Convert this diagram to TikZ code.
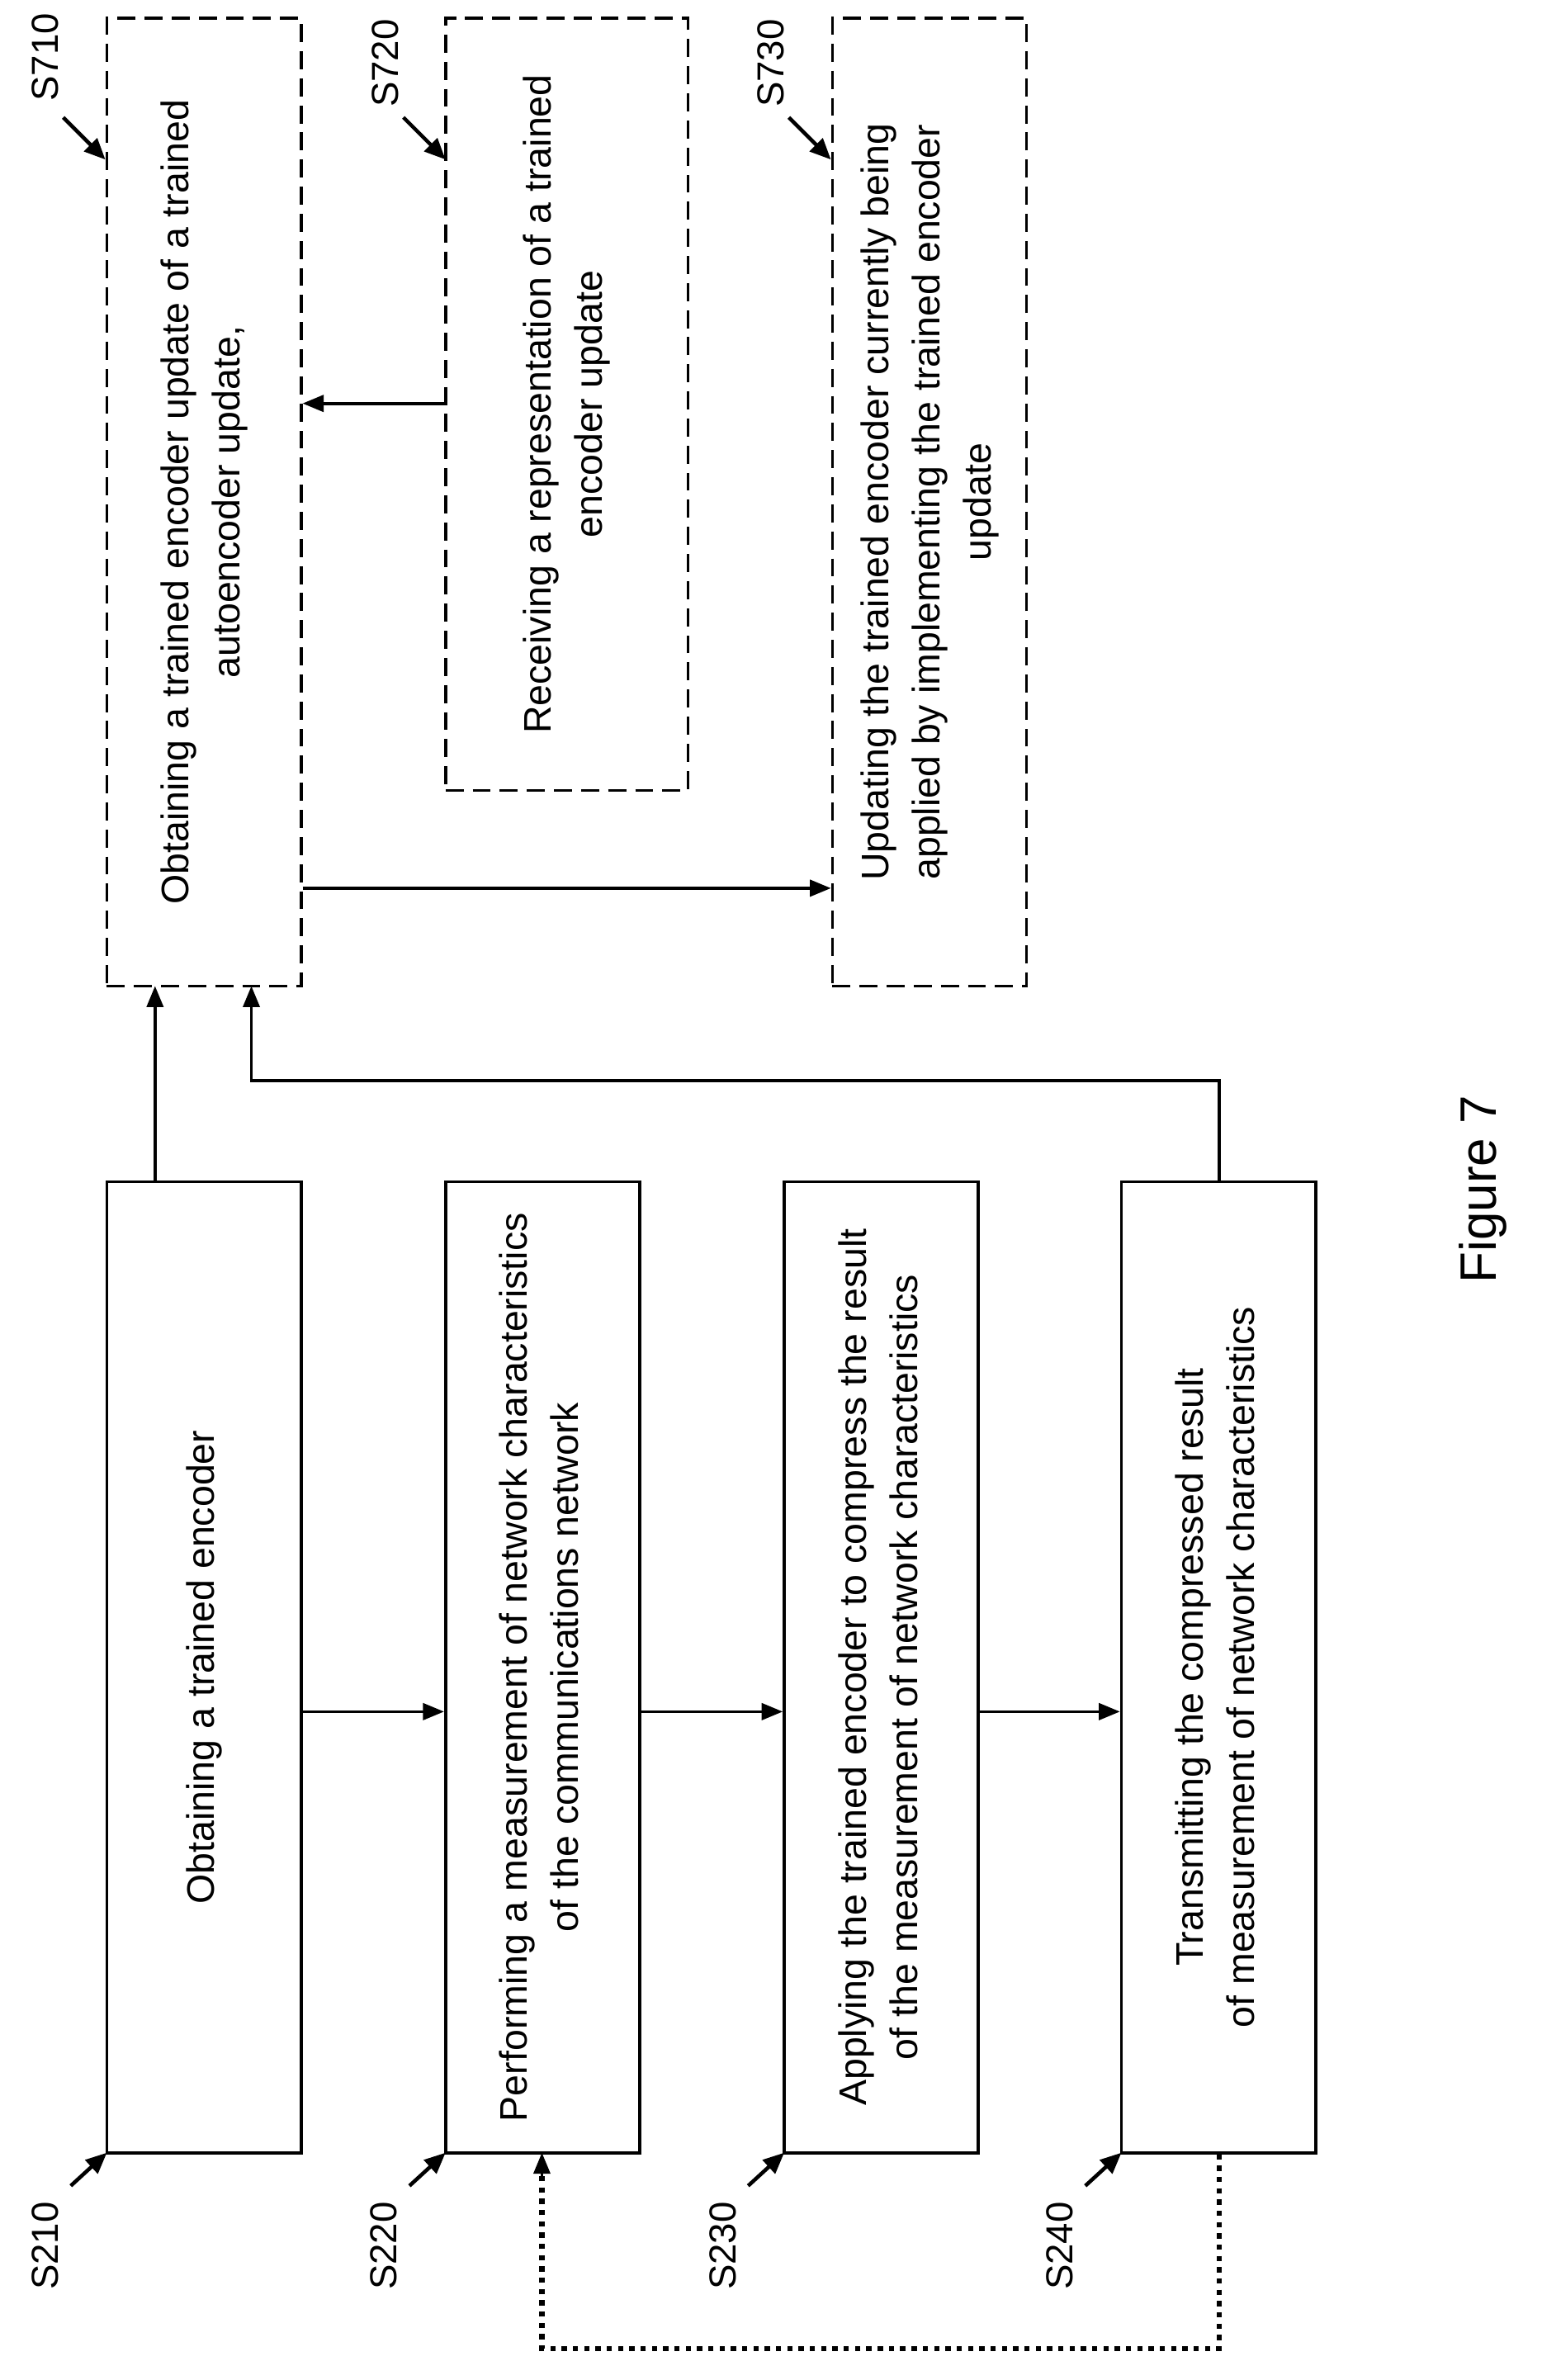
\documentclass[tikz,border=0pt]{standalone}
\usepackage{fontspec}
\setmainfont{Liberation Sans}
\usetikzlibrary{arrows.meta}
\begin{document}
\begin{tikzpicture}[x=1pt,y=-1pt,
 box/.style={draw,line width=2pt,inner sep=0pt,font=\fontsize{25.5}{34}\selectfont},
 dbox/.style={box,dash pattern=on 12pt off 6pt},
 arr/.style={line width=2pt,-{Triangle[length=14pt,width=11pt]}},
 lab/.style={rotate=90,font=\fontsize{25}{30}\selectfont,inner sep=0pt},
 ptr/.style={line width=2.5pt,-{Triangle[length=14pt,width=12pt]}}]
\useasboundingbox (0,0) rectangle (1024,1581);
\newcommand{\rt}[1]{\rotatebox{90}{\begin{tabular}{@{}c@{}}#1\end{tabular}}}
\node[box,minimum width=129pt,minimum height=645pt] (s210) at (135.5,1107.5) {\rt{Obtaining a trained encoder}};
\node[box,minimum width=129pt,minimum height=645pt] (s220) at (360.5,1107.5) {\rt{Performing a measurement of network characteristics\\of the communications network}};
\node[box,minimum width=129pt,minimum height=645pt] (s230) at (585.5,1107.5) {\rt{Applying the trained encoder to compress the result\\of the measurement of network characteristics}};
\node[box,minimum width=129pt,minimum height=645pt] (s240) at (809.5,1107.5) {\rt{Transmitting the compressed result\\of measurement of network characteristics}};
\node[dbox,minimum width=129pt,minimum height=643pt] (s710) at (135.5,333.5) {\rt{Obtaining a trained encoder update of a trained\\autoencoder update,}};
\node[dbox,minimum width=161pt,minimum height=513pt] (s720) at (376.5,268.5) {\rt{Receiving a representation of a trained\\encoder update}};
\node[dbox,minimum width=129pt,minimum height=643pt] (s730) at (617.5,333.5) {\rt{Updating the trained encoder currently being\\applied by implementing the trained encoder\\update}};
\draw[arr] (s210.east|-0,1137) -- (s220.west|-0,1137);
\draw[arr] (s220.east|-0,1137) -- (s230.west|-0,1137);
\draw[arr] (s230.east|-0,1137) -- (s240.west|-0,1137);
\draw[arr] (103,785) -- (103,655);
\draw[arr] (s240.north-|810,0) -- (810,718) -- (167,718) -- (167,655);
\draw[arr] (s720.west|-0,268) -- (s710.east|-0,268);
\draw[arr] (s710.east|-0,590) -- (s730.west|-0,590);
\coordinate (d1) at (810,1560); \coordinate (d2) at (360,1560);
\draw[line width=3.5pt,dash pattern=on 3.5pt off 4pt] (s240.south-|810,0) -- (d1) -- (d2) -- (360,1445);
\draw[arr] (360,1446) -- (360,1430);
\foreach \n/\x in {S210/30,S220/255,S230/480,S240/704}{
 \node[lab] (l\n) at (\x,1492) {\n};
 \draw[ptr] (\x+17,1452) -- (\x+41,1430);}
\node[lab] (lS710) at (30,38) {S710};
\draw[ptr] (42,78) -- (70,106);
\node[lab] (lS720) at (256,42) {S720};
\draw[ptr] (268,78) -- (296,106);
\node[lab] (lS730) at (512,42) {S730};
\draw[ptr] (524,78) -- (552,106);
\node[rotate=90,font=\fontsize{34}{40}\selectfont] (fig) at (985,790) {Figure 7};
\end{tikzpicture}
\end{document}
